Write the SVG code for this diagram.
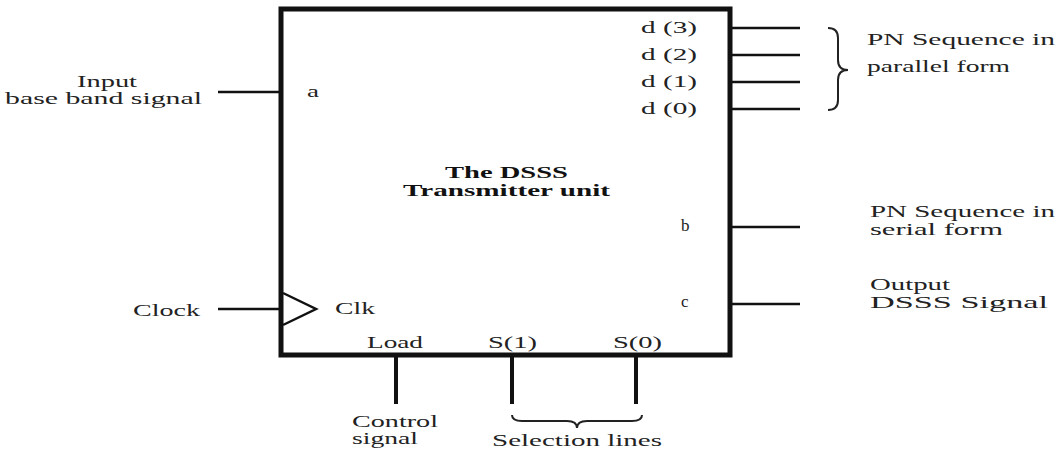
<svg xmlns="http://www.w3.org/2000/svg" width="1061" height="454" viewBox="0 0 1061 454">
<style>
text{font-family:"Liberation Serif","Times New Roman",serif;font-size:17px;fill:#222}
.b{font-weight:bold;fill:#111}
.w{stroke:#111;stroke-width:2.5;fill:none}
.t{stroke:#111;stroke-width:4;fill:none}
.br{stroke:#222;stroke-width:2;fill:none}
</style>
<rect width="1061" height="454" fill="#fff"/>
<g id="unit">
<rect x="281" y="9" width="449" height="346" fill="none" stroke="#111" stroke-width="5"/>
<text class="b" x="445" y="178" textLength="123" lengthAdjust="spacingAndGlyphs">The DSSS</text>
<text class="b" x="403" y="196" textLength="207" lengthAdjust="spacingAndGlyphs">Transmitter unit</text>
<text x="307" y="97" textLength="12" lengthAdjust="spacingAndGlyphs">a</text>
<text x="641" y="33" textLength="56" lengthAdjust="spacingAndGlyphs">d (3)</text>
<text x="641" y="60" textLength="56" lengthAdjust="spacingAndGlyphs">d (2)</text>
<text x="641" y="87" textLength="56" lengthAdjust="spacingAndGlyphs">d (1)</text>
<text x="641" y="114" textLength="56" lengthAdjust="spacingAndGlyphs">d (0)</text>
<text x="681" y="231">b</text>
<text x="681" y="307">c</text>
<polyline class="w" points="283,293 316,309 283,325"/>
<text x="335" y="314" textLength="40" lengthAdjust="spacingAndGlyphs">Clk</text>
<text x="367" y="348" textLength="56" lengthAdjust="spacingAndGlyphs">Load</text>
<text x="488" y="348" textLength="49" lengthAdjust="spacingAndGlyphs">S(1)</text>
<text x="613" y="348" textLength="49" lengthAdjust="spacingAndGlyphs">S(0)</text>
</g>
<g id="connectors">
<line class="w" x1="218" y1="92" x2="280" y2="92"/>
<line class="w" x1="218" y1="309" x2="280" y2="309"/>
<line class="w" x1="732" y1="28" x2="800" y2="28"/>
<line class="w" x1="732" y1="55" x2="800" y2="55"/>
<line class="w" x1="732" y1="82" x2="800" y2="82"/>
<line class="w" x1="732" y1="109" x2="800" y2="109"/>
<line class="w" x1="732" y1="227" x2="800" y2="227"/>
<line class="w" x1="732" y1="304" x2="800" y2="304"/>
<line class="t" x1="396" y1="357" x2="396" y2="404"/>
<line class="t" x1="512" y1="357" x2="512" y2="404"/>
<line class="t" x1="636" y1="357" x2="636" y2="404"/>
</g>
<g id="input-label">
<text x="77" y="87" textLength="60" lengthAdjust="spacingAndGlyphs">Input</text>
<text x="5" y="104" textLength="197" lengthAdjust="spacingAndGlyphs">base band signal</text>
</g>
<g id="clock-label">
<text x="133" y="316" textLength="67" lengthAdjust="spacingAndGlyphs">Clock</text>
</g>
<g id="parallel-label">
<path class="br" d="M828,28 Q838,28 838,38 L838,60 Q838,70 848,70 Q838,70 838,80 L838,100 Q838,110 828,110"/>
<text x="867" y="45" textLength="188" lengthAdjust="spacingAndGlyphs">PN Sequence in</text>
<text x="867" y="72" textLength="143" lengthAdjust="spacingAndGlyphs">parallel form</text>
</g>
<g id="serial-label">
<text x="870" y="217" textLength="185" lengthAdjust="spacingAndGlyphs">PN Sequence in</text>
<text x="870" y="235" textLength="133" lengthAdjust="spacingAndGlyphs">serial form</text>
</g>
<g id="output-label">
<text x="870" y="290" textLength="80" lengthAdjust="spacingAndGlyphs">Output</text>
<text x="870" y="308" textLength="178" lengthAdjust="spacingAndGlyphs">DSSS Signal</text>
</g>
<g id="control-label">
<text x="352" y="427" textLength="86" lengthAdjust="spacingAndGlyphs">Control</text>
<text x="352" y="444" textLength="66" lengthAdjust="spacingAndGlyphs">signal</text>
</g>
<g id="selection-label">
<path class="br" d="M512,415 Q512,421 522,421 L567,421 Q577,421 577,428 Q577,421 587,421 L632,421 Q642,421 642,415"/>
<text x="492" y="446" textLength="170" lengthAdjust="spacingAndGlyphs">Selection lines</text>
</g>
</svg>
